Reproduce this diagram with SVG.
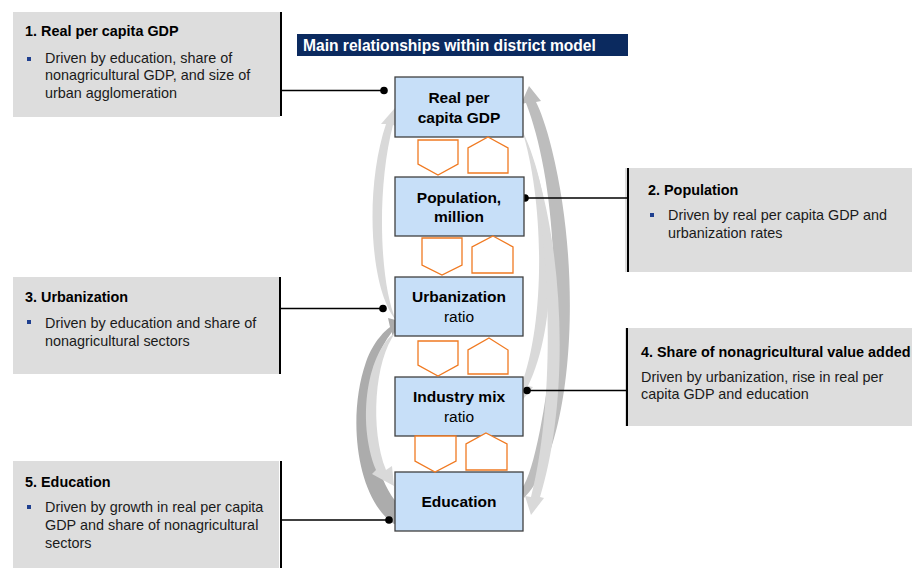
<svg xmlns="http://www.w3.org/2000/svg" width="912" height="570" viewBox="0 0 912 570">
<style>
text{font-family:"Liberation Sans",Arial,sans-serif;fill:#000}
.card{fill:#dddddd}
.vl{stroke:#000;stroke-width:2}
.hl{stroke:#000;stroke-width:1.6}
.ttl{font-size:14.4px;font-weight:bold}
.txt{font-size:14.4px;fill:#1a1a1a}
.bul{fill:#1f3f8f}
.node{fill:#c7dff8;stroke:#404040;stroke-width:1.3}
.nb{font-size:15.5px;font-weight:bold;text-anchor:middle}
.nr{font-size:15.5px;text-anchor:middle}
.pent{fill:#fff;stroke:#f07a22;stroke-width:1.3}
.a1{fill:#d9d9d9}
.a2{fill:#acacac}
.a3{fill:#bdbdbd}
</style>

<g id="connectors">
  <!-- left arrows -->
  <path class="a1" d="M396 320 C370 290 364 190 386 124 L381 124 L395 108 L398 127 L393 125 C376 190 380 285 396 320 Z"/>
  <path class="a2" d="M402 525 L394 524 C358 500 346 420 366 362 C374 340 386 330 390 327 L388 318 L403 322 L392 336 L392 332 C378 350 372 370 370 392 C368 440 380 490 402 507 Z"/>
  <path class="a1" d="M396 332 C368 350 356 420 376 470 L372 474 L394 486 L392 466 L386 470 C370 430 374 360 396 332 Z"/>
  <!-- right arrows -->
  <path class="a3" d="M524 498 C572 450 584 280 552 150 C546 125 540 110 536 102 L541 101 L529 86 L521 104 L526 103 C552 170 566 300 540 430 C534 460 528 480 522 488 Z"/>
  <path class="a1" d="M522 130 C556 200 560 320 528 386 L533 387 L520 403 L516 384 L521 386 C546 320 544 200 522 130 Z"/>
  <path class="a1" d="M526 140 C566 240 570 400 540 497 L544 498 L531 515 L525 496 L531 497 C556 400 552 240 526 140 Z"/>
</g>

<g id="title">
  <rect x="297" y="34" width="331" height="22" fill="#0b2a5f"/>
  <text x="303" y="50.5" style="font-size:15.6px;font-weight:bold;fill:#fff">Main relationships within district model</text>
</g>

<g id="card1">
  <rect class="card" x="13" y="12" width="267" height="105"/>
  <line class="vl" x1="281" y1="12" x2="281" y2="116"/>
  <line class="hl" x1="281" y1="90.5" x2="384" y2="90.5"/>
  <circle cx="384" cy="90.5" r="3.8"/>
  <text class="ttl" x="25" y="36">1. Real per capita GDP</text>
  <rect class="bul" x="27" y="57" width="4" height="4"/>
  <text class="txt" x="45" y="63">Driven by education, share of</text>
  <text class="txt" x="45" y="80">nonagricultural GDP, and size of</text>
  <text class="txt" x="45" y="98">urban agglomeration</text>
</g>

<g id="card2">
  <rect class="card" x="625" y="168" width="287" height="104"/>
  <line class="vl" x1="628" y1="168" x2="628" y2="272"/>
  <line class="hl" x1="525" y1="198" x2="628" y2="198"/>
  <circle cx="525" cy="198" r="3.8"/>
  <text class="ttl" x="648" y="195">2. Population</text>
  <rect class="bul" x="650" y="213" width="4" height="4"/>
  <text class="txt" x="668" y="220">Driven by real per capita GDP and</text>
  <text class="txt" x="668" y="238">urbanization rates</text>
</g>

<g id="card3">
  <rect class="card" x="13" y="277" width="266" height="97"/>
  <line class="vl" x1="280" y1="277" x2="280" y2="374"/>
  <line class="hl" x1="280" y1="308.5" x2="383" y2="308.5"/>
  <circle cx="383" cy="308.5" r="3.8"/>
  <text class="ttl" x="25" y="302">3. Urbanization</text>
  <rect class="bul" x="27" y="320" width="4" height="4"/>
  <text class="txt" x="45" y="328">Driven by education and share of</text>
  <text class="txt" x="45" y="346">nonagricultural sectors</text>
</g>

<g id="card4">
  <rect class="card" x="625" y="328" width="287" height="98"/>
  <line class="vl" x1="627" y1="328" x2="627" y2="426"/>
  <line class="hl" x1="527" y1="390.5" x2="627" y2="390.5"/>
  <circle cx="527" cy="390.5" r="3.8"/>
  <text class="ttl" x="641" y="357">4. Share of nonagricultural value added</text>
  <text class="txt" x="641" y="382">Driven by urbanization, rise in real per</text>
  <text class="txt" x="641" y="399">capita GDP and education</text>
</g>

<g id="card5">
  <rect class="card" x="13" y="461" width="266" height="107"/>
  <line class="vl" x1="281" y1="461" x2="281" y2="568"/>
  <line class="hl" x1="281" y1="520" x2="389" y2="520"/>
  <circle cx="389" cy="520" r="3.8"/>
  <text class="ttl" x="25" y="487">5. Education</text>
  <rect class="bul" x="27" y="505" width="4" height="4"/>
  <text class="txt" x="45" y="512">Driven by growth in real per capita</text>
  <text class="txt" x="45" y="530">GDP and share of nonagricultural</text>
  <text class="txt" x="45" y="548">sectors</text>
</g>

<g id="node-gdp">
  <rect class="node" x="395" y="77" width="128" height="60"/>
  <text class="nb" x="459" y="103">Real per</text>
  <text class="nb" x="459" y="123">capita GDP</text>
</g>
<g id="node-population">
  <rect class="node" x="395" y="177" width="129" height="59"/>
  <text class="nb" x="459" y="203">Population,</text>
  <text class="nb" x="459" y="222">million</text>
</g>
<g id="node-urbanization">
  <rect class="node" x="395" y="277" width="128" height="59"/>
  <text class="nb" x="459" y="302">Urbanization</text>
  <text class="nr" x="459" y="322">ratio</text>
</g>
<g id="node-industry">
  <rect class="node" x="395" y="377" width="128" height="59"/>
  <text class="nb" x="459" y="402">Industry mix</text>
  <text class="nr" x="459" y="422">ratio</text>
</g>
<g id="node-education">
  <rect class="node" x="395" y="472" width="128" height="59"/>
  <text class="nb" x="459" y="507">Education</text>
</g>

<g id="pentagons">
  <polygon class="pent" points="418,140 458,140 458,164 438,175 418,164"/>
  <polygon class="pent" points="488,137 508,148 508,173 468,173 468,148"/>
  <polygon class="pent" points="422,238 462,238 462,265 442,275 422,265"/>
  <polygon class="pent" points="493,236 513,247 513,273 472,273 472,247"/>
  <polygon class="pent" points="418,341 458,341 458,365 438,376 418,365"/>
  <polygon class="pent" points="489,338 508,350 508,374 468,374 468,350"/>
  <polygon class="pent" points="415,436 456,436 456,461 435,472 415,461"/>
  <polygon class="pent" points="486,433 507,444 507,470 466,470 466,444"/>
</g>
</svg>
